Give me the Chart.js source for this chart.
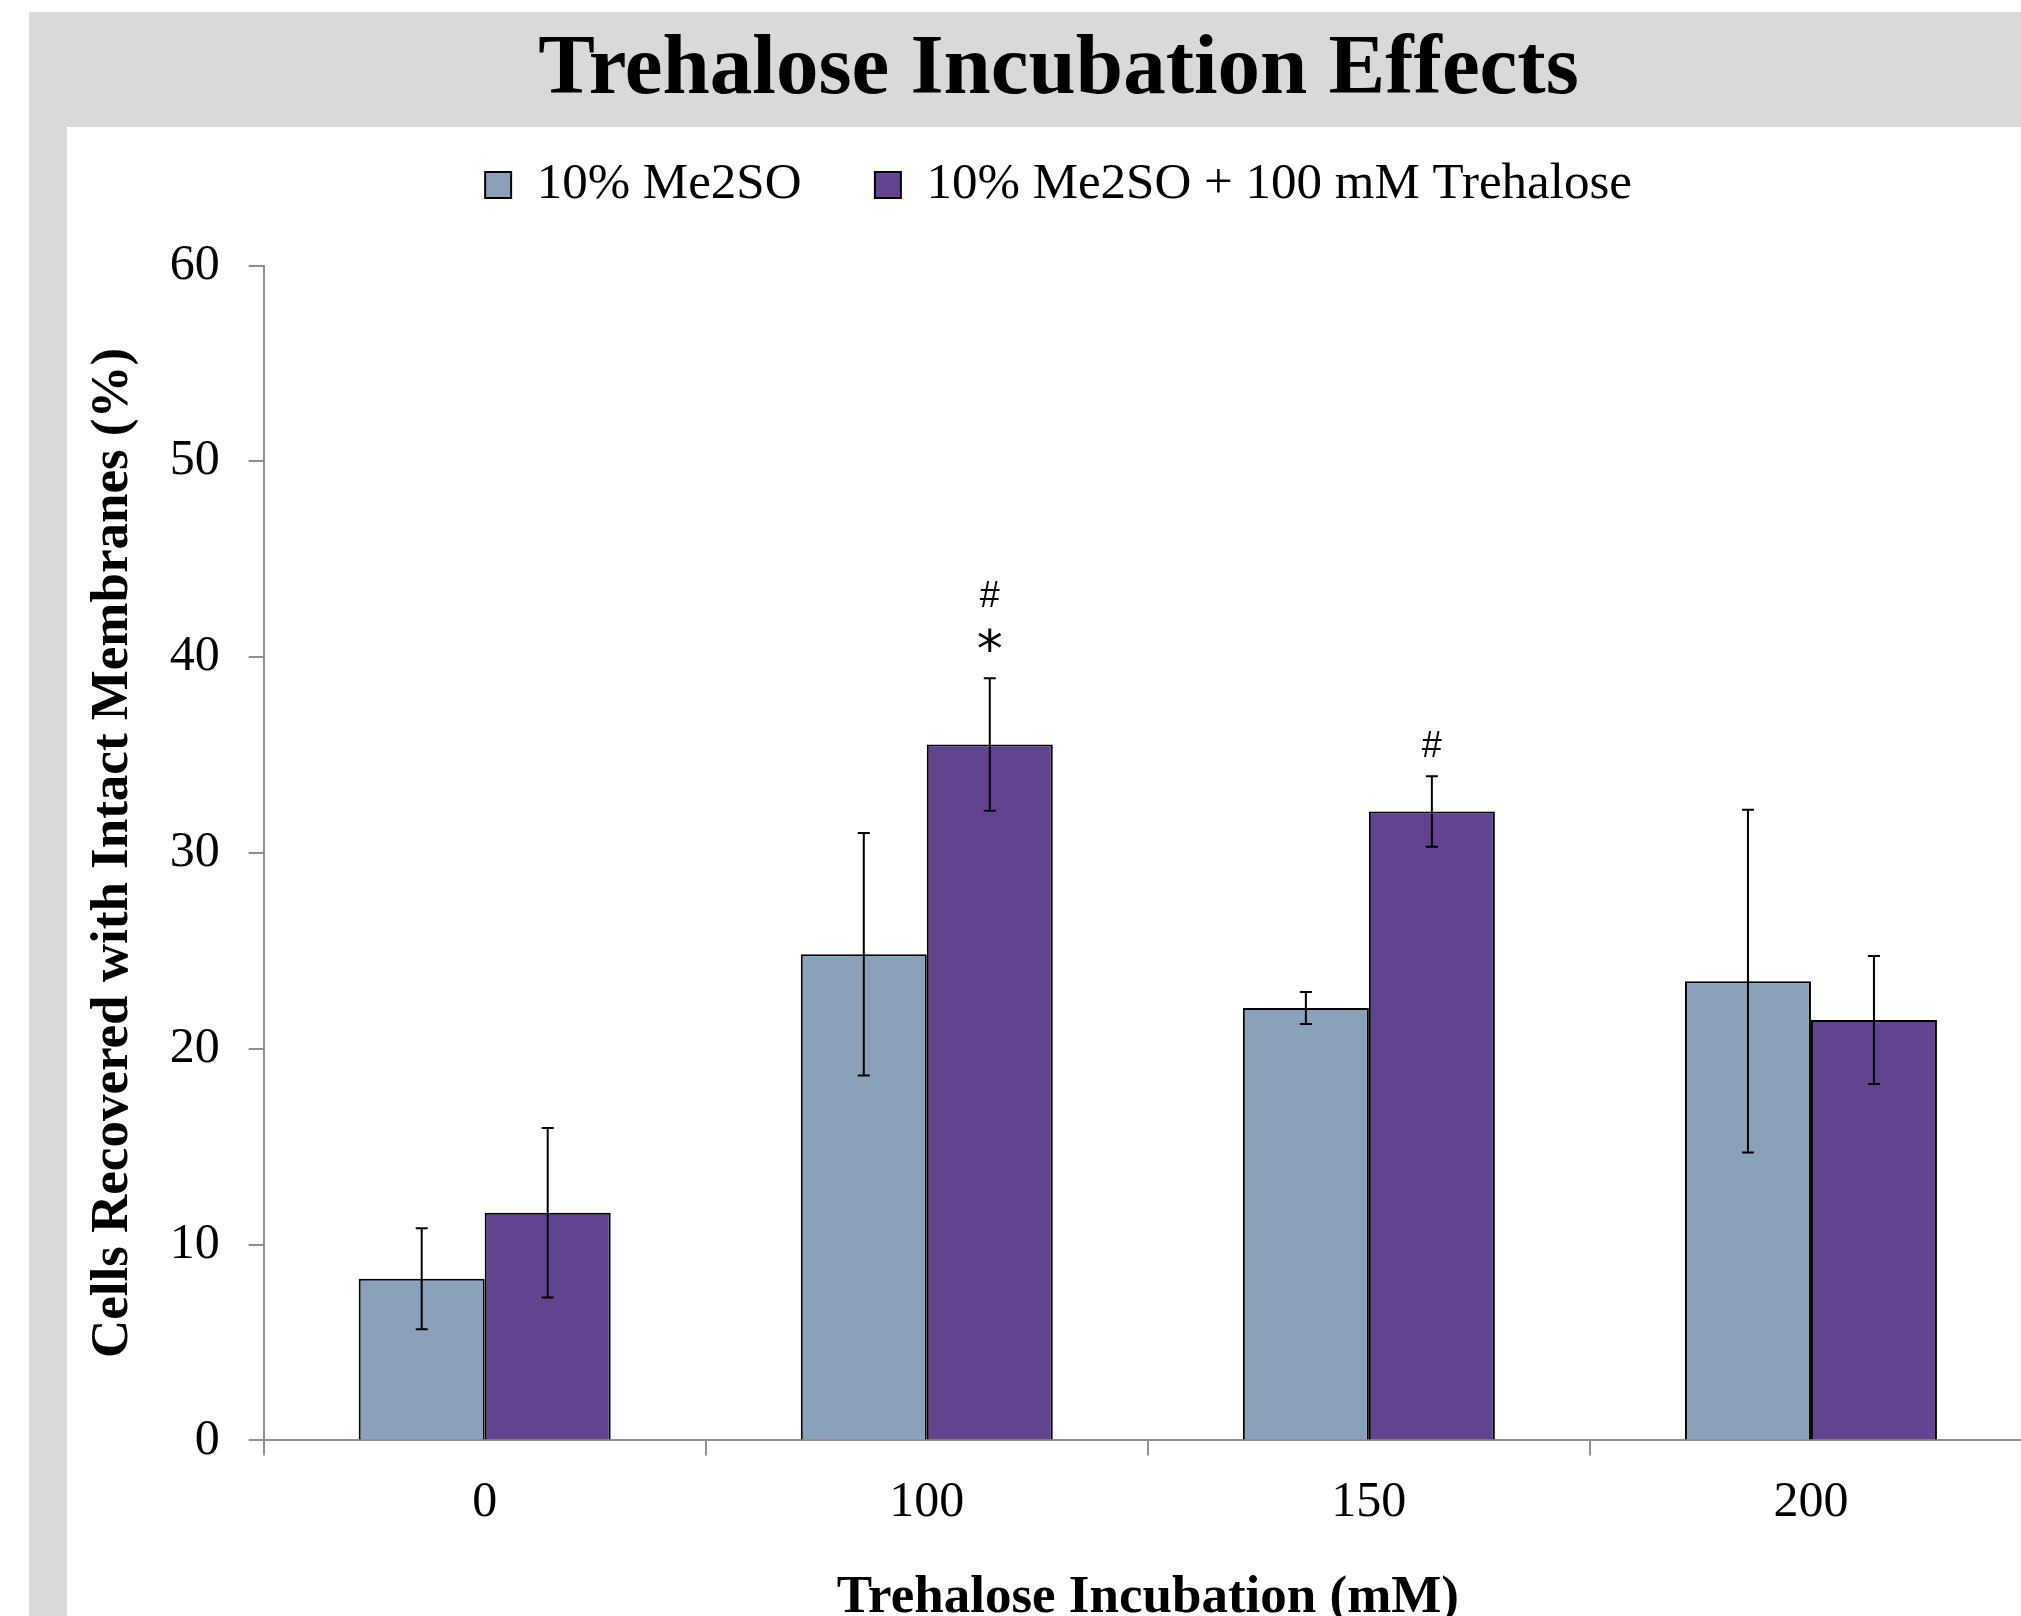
<!DOCTYPE html>
<html>
<head>
<meta charset="utf-8">
<title>Trehalose Incubation Effects</title>
<script src="https://cdn.jsdelivr.net/npm/chart.js@4.4.1/dist/chart.umd.min.js"></script>
<style>
  html, body { margin: 0; padding: 0; background: #fff; overflow: hidden; }
  body { width: 2021px; height: 1616px; position: relative; }
  #frame { position: absolute; left: 29px; top: 12px; right: -100px; bottom: -100px; background: #d9d9d9; }
  #panel { position: absolute; left: 67px; top: 127px; right: -100px; bottom: -100px; background: #fff; }
  #chart { position: absolute; left: 28px; top: 13px; }
</style>
</head>
<body>
<div id="frame"></div>
<div id="panel"></div>
<canvas id="chart" width="2004" height="1617"></canvas>
<script>
// --- data ---
const doses = ["0", "100", "150", "200"];
const me2so = [8.25, 24.83, 22.08, 23.45];
const me2soErr = [2.58, 6.19, 0.82, 8.75];
const trehalose = [11.63, 35.54, 32.12, 21.47];
const trehaloseErr = [4.33, 3.38, 1.80, 3.27];
// significance marks above the trehalose bars, bottom first
const trehaloseMarks = [[], ["*", "#"], ["#"], []];

const serif = "'Liberation Serif', 'Times New Roman', serif";
const axisGrey = "#8e8e8e";

// error bars drawn from the bar elements and the y scale
const errorBars = {
  id: "errorBars",
  afterDatasetsDraw(chart) {
    const { ctx } = chart;
    const y = chart.scales.y;
    const errs = [me2soErr, trehaloseErr];
    ctx.save();
    ctx.strokeStyle = "#000";
    ctx.lineWidth = 2;
    chart.data.datasets.forEach((ds, i) => {
      chart.getDatasetMeta(i).data.forEach((bar, j) => {
        const v = ds.data[j];
        const e = errs[i][j];
        const top = y.getPixelForValue(v + e);
        const bot = y.getPixelForValue(v - e);
        ctx.beginPath();
        ctx.moveTo(bar.x, top); ctx.lineTo(bar.x, bot);
        ctx.moveTo(bar.x - 6, top); ctx.lineTo(bar.x + 6, top);
        ctx.moveTo(bar.x - 6, bot); ctx.lineTo(bar.x + 6, bot);
        ctx.stroke();
      });
    });
    ctx.restore();
  }
};

// "*" and "#" stacked above the error bar of the trehalose bars
const sigMarks = {
  id: "sigMarks",
  afterDatasetsDraw(chart) {
    const { ctx } = chart;
    const y = chart.scales.y;
    ctx.save();
    ctx.fillStyle = "#000";
    ctx.textAlign = "center";
    ctx.textBaseline = "middle";
    chart.getDatasetMeta(1).data.forEach((bar, j) => {
      let cy = y.getPixelForValue(trehalose[j] + trehaloseErr[j]) - 29;
      trehaloseMarks[j].forEach(m => {
        ctx.font = m === "*" ? "52px 'DejaVu Sans', sans-serif" : "36px 'Liberation Sans', sans-serif";
        ctx.fillText(m, bar.x, m === "*" ? cy + 4 : cy);
        cy -= 52;
      });
    });
    ctx.restore();
  }
};

new Chart(document.getElementById("chart"), {
  type: "bar",
  data: {
    labels: doses,
    datasets: [
      { label: "10% Me2SO", data: me2so, backgroundColor: "#8ba1b9", borderColor: "#000", borderWidth: 2 },
      { label: "10% Me2SO + 100 mM Trehalose", data: trehalose, backgroundColor: "#62438f", borderColor: "#000", borderWidth: 2 }
    ]
  },
  options: {
    responsive: false,
    animation: false,
    categoryPercentage: 0.57,
    barPercentage: 1.0,
    layout: { padding: { left: 57, right: 0, top: 0, bottom: 0 } },
    plugins: {
      title: {
        display: true,
        text: "Trehalose Incubation Effects",
        color: "#000",
        font: { family: serif, size: 85, weight: "bold", lineHeight: 0.35 },
        padding: { top: 43.4, bottom: 0 }
      },
      legend: {
        labels: {
          color: "#000",
          font: { family: serif, size: 51 },
          boxWidth: 26,
          boxHeight: 26,
          padding: 73.35
        }
      },
      // empty spacer between the legend and the plot
      subtitle: { display: true, text: "", weight: 500, padding: 0, font: { size: 45, lineHeight: 1 } },
      tooltip: { enabled: false }
    },
    scales: {
      x: {
        grid: { drawOnChartArea: false, tickLength: 15, color: axisGrey, lineWidth: 2 },
        border: { color: axisGrey, width: 2 },
        ticks: { color: "#000", font: { family: serif, size: 50 }, padding: 17 },
        title: {
          display: true,
          text: "Trehalose Incubation (mM)",
          color: "#000",
          font: { family: serif, size: 53, weight: "bold" },
          padding: { top: 17, bottom: 0 }
        }
      },
      y: {
        min: 0,
        max: 60,
        grid: { drawOnChartArea: false, tickLength: 15, color: axisGrey, lineWidth: 2 },
        border: { color: axisGrey, width: 2 },
        ticks: { stepSize: 10, color: "#000", font: { family: serif, size: 50 }, padding: 29 },
        title: {
          display: true,
          text: "Cells Recovered with Intact Membranes (%)",
          color: "#000",
          font: { family: serif, size: 53, weight: "bold", lineHeight: 1.05 },
          padding: { top: 0, bottom: 0 }
        }
      }
    }
  },
  plugins: [errorBars, sigMarks]
});
</script>
</body>
</html>
